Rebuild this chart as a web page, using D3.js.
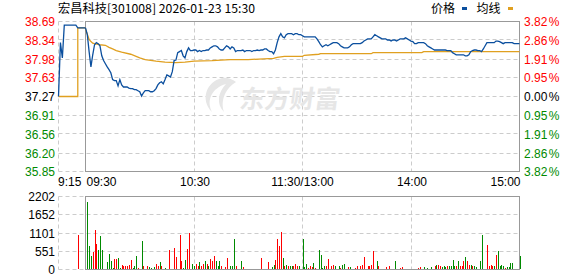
<!DOCTYPE html>
<html>
<head>
<meta charset="utf-8">
<script src="https://cdn.jsdelivr.net/npm/d3@7"></script>
<style>
  body { margin: 0; background: #fff; }
  svg text { font-family: "Liberation Sans", Arial, sans-serif; font-size: 12px; }
  svg .cjk { font-family: "Noto Sans CJK SC", sans-serif; }
</style>
</head>
<body>
<svg id="chart" width="578" height="276"></svg>
<script>
"use strict";

// ---- data ----
var title = '宏昌科技[301008] 2026-01-23 15:30';
var prevClose = 37.27;

var priceTicks = [38.69, 38.34, 37.98, 37.63, 37.27, 36.91, 36.56, 36.20, 35.85];
var pctLabels = ['3.82', '2.86', '1.91', '0.95', '0.00', '0.95', '1.91', '2.86', '3.82'];
var volTicks = [2202, 1652, 1101, 551, 0];
var timeLabels = ['9:15', '09:30', '10:30', '11:30/13:00', '14:00', '15:00'];

// call auction 9:15 .. 9:29, one value per minute
var prePrice = [37.27, 38.29, 38.00, 38.62, 38.62, 38.62, 38.62, 38.62, 38.62, 38.62,
                38.57, 38.57, 38.57, 38.57, 38.57];
var preAvg = [37.27, 37.27, 37.27, 37.27, 37.27, 37.27, 37.27, 37.27, 37.27, 37.27,
              38.57, 38.57, 38.57, 38.57, 38.57];
var preVolMinute = 10;      // 9:25
var preVol = 1050;

// trading minutes 0 (9:30) .. 240 (15:00), lunch break folded out
var price = [
  38.57, 38.44, 38.12, 37.83, 38.06, 38.25, 38.29, 38.27, 38.23, 38.04,
  37.95, 37.89, 37.83, 37.78, 37.72, 37.59, 37.57, 37.57, 37.47, 37.59,
  37.49, 37.45, 37.45, 37.45, 37.43, 37.42, 37.42, 37.40, 37.40, 37.38,
  37.36, 37.28, 37.34, 37.38, 37.38, 37.38, 37.36, 37.36, 37.38, 37.42,
  37.49, 37.53, 37.55, 37.51, 37.59, 37.68, 37.66, 37.64, 37.74, 37.95,
  37.96, 38.10, 38.12, 38.14, 38.04, 38.00, 38.12, 38.19, 38.14, 38.14,
  38.15, 38.15, 38.12, 38.14, 38.12, 38.14, 38.14, 38.15, 38.15, 38.19,
  38.21, 38.23, 38.23, 38.21, 38.17, 38.15, 38.15, 38.19, 38.23, 38.21,
  38.17, 38.21, 38.19, 38.12, 38.14, 38.14, 38.14, 38.15, 38.12, 38.14,
  38.14, 38.14, 38.12, 38.14, 38.14, 38.15, 38.14, 38.15, 38.15, 38.17,
  38.17, 38.14, 38.12, 38.12, 38.08, 38.15, 38.29, 38.40, 38.46, 38.40,
  38.38, 38.44, 38.46, 38.46, 38.46, 38.44, 38.46, 38.46, 38.44, 38.44,
  38.42, 38.40, 38.40, 38.40, 38.40, 38.40, 38.40, 38.40, 38.36, 38.31,
  38.25, 38.21, 38.23, 38.25, 38.23, 38.25, 38.27, 38.29, 38.29, 38.29,
  38.27, 38.23, 38.21, 38.19, 38.19, 38.19, 38.21, 38.25, 38.27, 38.27,
  38.27, 38.27, 38.27, 38.29, 38.32, 38.34, 38.36, 38.36, 38.36, 38.40,
  38.44, 38.42, 38.40, 38.38, 38.36, 38.36, 38.36, 38.34, 38.34, 38.32,
  38.34, 38.34, 38.32, 38.34, 38.36, 38.36, 38.36, 38.38, 38.36, 38.34,
  38.32, 38.31, 38.27, 38.27, 38.29, 38.29, 38.29, 38.29, 38.27, 38.23,
  38.21, 38.19, 38.17, 38.15, 38.15, 38.15, 38.15, 38.15, 38.15, 38.15,
  38.14, 38.14, 38.14, 38.10, 38.08, 38.06, 38.06, 38.06, 38.06, 38.06,
  38.04, 38.04, 38.06, 38.12, 38.14, 38.15, 38.15, 38.14, 38.14, 38.12,
  38.17, 38.23, 38.29, 38.29, 38.29, 38.29, 38.29, 38.32, 38.32, 38.31,
  38.29, 38.27, 38.29, 38.29, 38.29, 38.29, 38.29, 38.27, 38.27, 38.27, 38.27
];

// average price, read at the minutes where it visibly changes
var avgMinutes = [0, 1, 2, 3, 4, 5, 8, 11, 13, 15, 17, 20, 25, 30, 33, 35, 39, 44, 50, 55,
                  60, 70, 80, 90, 104, 106, 110, 120, 121, 129, 130, 158, 159, 186, 187, 240];
var avgPrices = [38.55, 38.45, 38.35, 38.31, 38.28, 38.27, 38.25, 38.24, 38.20, 38.17,
                 38.14, 38.11, 38.07, 38.00, 37.97, 37.96, 37.94, 37.92, 37.91, 37.92,
                 37.94, 37.95, 37.97, 37.97, 37.99, 38.01, 38.03, 38.03, 38.05, 38.07,
                 38.08, 38.08, 38.10, 38.10, 38.12, 38.12];

// volume for minutes 1 .. 240
var volume = [
  2030, 720, 420, 530, 1200, 780, 600, 1020, 600, 30,
  30, 220, 480, 250, 50, 330, 330, 360, 50, 150,
  100, 100, 100, 150, 280, 50, 120, 400, 50, 30,
  850, 120, 30, 100, 70, 50, 30, 70, 170, 120,
  220, 100, 30, 50, 30, 580, 30, 30, 650, 380,
  30, 1050, 270, 50, 300, 630, 1100, 30, 170, 100,
  170, 100, 220, 100, 170, 250, 170, 100, 320, 250,
  420, 250, 100, 270, 100, 30, 70, 360, 30, 120,
  100, 920, 120, 30, 30, 270, 70, 30, 30, 30,
  30, 30, 30, 30, 30, 30, 350, 30, 30, 30,
  220, 30, 80, 150, 300, 930, 720, 1120, 350, 100,
  150, 100, 100, 120, 120, 170, 100, 120, 30, 930,
  70, 170, 50, 100, 70, 200, 50, 30, 580, 450,
  50, 120, 100, 330, 30, 100, 150, 100, 30, 120,
  50, 150, 170, 30, 70, 70, 30, 30, 50, 120,
  30, 100, 150, 370, 30, 100, 100, 150, 550, 30,
  250, 100, 30, 30, 30, 80, 30, 120, 30, 30,
  250, 30, 30, 50, 90, 30, 30, 30, 30, 30,
  30, 30, 30, 50, 80, 30, 80, 30, 50, 30,
  80, 30, 100, 150, 150, 100, 80, 100, 80, 120,
  100, 120, 300, 100, 120, 250, 100, 100, 250, 370,
  270, 150, 150, 100, 100, 80, 30, 250, 1050, 30,
  30, 750, 100, 150, 100, 120, 450, 550, 100, 150,
  100, 50, 80, 80, 200, 200, 0, 0, 0, 420
];
// R = up minute, G = down minute (same order as volume)
var volumeDir = (
  'GGGRRRGGGG GGGGGRRGGR RRRRRGGGRG GRRRGGGGRR GRGGGRGGRR GRRGGRRGGG ' +
  'RRGRRGRGRR RGGGRGRRRG GGRGGGRRRR RRRRRRRRRR RGGGRRRRGR GRGGRRRGRG ' +
  'GGRRRGRRGG GGRRGRRGGG RGGRRGRGRR RRRRGRRRRG GRGGRRRRRR GGGRRRRRRG ' +
  'GGRRRGGRGG GRRGRRGGGR GGGGRGRRRG RRGRGGRGGR GRRRRGRGGG GRGGGGGGGG'
).replace(/ /g, '').split('');

// ---- drawing ----
var d3 = window.d3;
var svg = d3.select('#chart');

var colors = {
  up: '#ff0000', down: '#008a00', flat: '#000000',
  price: '#0b4f9e', avg: '#e0a020', grid: '#cccccc', frame: '#999999'
};

var left = 58.5, right = 519.5;
var x = d3.scaleLinear().domain([0, 240]).range([85.5, right]);
var xPre = d3.scaleLinear().domain([0, 14]).range([left, 85.5]);
var y = d3.scaleLinear().domain([35.85, 38.69]).range([171.5, 21.5]);
var yv = d3.scaleLinear().domain([0, 2202]).range([269.5, 196.5]);

function tickColor(v) {
  if (Math.abs(v - prevClose) < 0.005) return colors.flat;
  return v > prevClose ? colors.up : colors.down;
}
function px(v) { return Math.floor(v) + 0.5; }

// grid
var grid = svg.append('g')
  .attr('stroke', colors.grid).attr('stroke-dasharray', '4,3').attr('fill', 'none');
grid.selectAll('.hp').data(priceTicks).enter().append('line')
  .attr('x1', left).attr('x2', right)
  .attr('y1', d => px(y(d))).attr('y2', d => px(y(d)));
grid.selectAll('.hv').data(volTicks).enter().append('line')
  .attr('x1', left).attr('x2', right)
  .attr('y1', d => px(yv(d))).attr('y2', d => px(yv(d)));
[60, 120, 180].forEach(function(m) {
  grid.append('line').attr('x1', px(x(m))).attr('x2', px(x(m))).attr('y1', 21.5).attr('y2', 171.5);
  grid.append('line').attr('x1', px(x(m))).attr('x2', px(x(m))).attr('y1', 196.5).attr('y2', 269.5);
});
grid.append('line').attr('x1', left).attr('x2', left).attr('y1', 21.5).attr('y2', 171.5);
grid.append('line').attr('x1', left).attr('x2', left).attr('y1', 196.5).attr('y2', 269.5);

// watermark
var wm = svg.append('g').attr('fill', '#e6e6e6');
wm.append('path')
  .attr('d', 'M222,78 C206,82 200,100 212,112 C206,100 212,88 226,84 C218,92 216,104 224,112 C220,100 226,88 236,82 C232,79 227,77 222,78 Z');
wm.append('text').attr('class', 'cjk')
  .attr('x', 240).attr('y', 108)
  .attr('font-size', 25).attr('font-weight', 'bold')
  .attr('transform', 'skewX(-8) translate(14,0)')
  .style('font-size', '25px')
  .text('东方财富');

// frames
svg.append('rect').attr('x', 85.5).attr('y', 21.5).attr('width', right - 85.5).attr('height', 150)
  .attr('fill', 'none').attr('stroke', colors.frame);
svg.append('rect').attr('x', 85.5).attr('y', 196.5).attr('width', right - 85.5).attr('height', 73)
  .attr('fill', 'none').attr('stroke', colors.frame);

// left price axis
var axL = svg.append('g').attr('transform', 'translate(' + left + ',0)')
  .call(d3.axisLeft(y).tickValues(priceTicks).tickSize(0).tickPadding(3.5)
    .tickFormat(d => d.toFixed(2)));
axL.select('.domain').remove();
axL.selectAll('text')
  .attr('font-family', '"Liberation Sans", Arial, sans-serif').attr('font-size', 12)
  .attr('dy', '0.35em').attr('fill', d => tickColor(d));

// right percent axis
var axR = svg.append('g').attr('transform', 'translate(' + right + ',0)')
  .call(d3.axisRight(y).tickValues(priceTicks).tickSize(0).tickPadding(4.5)
    .tickFormat((d, i) => pctLabels[i]));
axR.select('.domain').remove();
axR.selectAll('text')
  .attr('font-family', '"Liberation Sans", Arial, sans-serif').attr('font-size', 12)
  .attr('dy', '0.35em').attr('fill', d => tickColor(d))
  .append('tspan').attr('dx', 1.5).text('%');

// volume axis
var axV = svg.append('g').attr('transform', 'translate(' + left + ',0)')
  .call(d3.axisLeft(yv).tickValues(volTicks).tickSize(0).tickPadding(3.5)
    .tickFormat(d3.format('d')));
axV.select('.domain').remove();
axV.selectAll('text')
  .attr('font-family', '"Liberation Sans", Arial, sans-serif').attr('font-size', 12)
  .attr('dy', '0.35em').attr('fill', '#000');

// time labels
var timePos = [
  {x: xPre(0) - 0.5, anchor: 'start'},
  {x: x(0) + 1, anchor: 'start'},
  {x: x(60) + 1, anchor: 'middle'},
  {x: x(120), anchor: 'middle'},
  {x: x(180) + 1, anchor: 'middle'},
  {x: x(240) + 1, anchor: 'end'}
];
svg.append('g').selectAll('text').data(timeLabels).enter().append('text')
  .attr('x', (d, i) => timePos[i].x).attr('y', 186)
  .attr('text-anchor', (d, i) => timePos[i].anchor)
  .attr('fill', '#000')
  .text(d => d);

// volume bars
var bars = svg.append('g');
bars.append('rect')
  .attr('x', Math.round(xPre(preVolMinute))).attr('width', 1)
  .attr('y', Math.round(yv(preVol))).attr('height', 269 - Math.round(yv(preVol)))
  .attr('fill', colors.up);
bars.selectAll('.bar').data(volume).enter().append('rect')
  .attr('x', (d, i) => Math.round(x(i + 1))).attr('width', 1)
  .attr('y', d => Math.round(yv(d)))
  .attr('height', d => Math.max(0, 269 - Math.round(yv(d))))
  .attr('fill', (d, i) => volumeDir[i] === 'R' ? colors.up : colors.down);

// lines
var preAvgLine = d3.line().x((d, i) => xPre(i)).y(d => y(d)).curve(d3.curveStepAfter);
var preLine = d3.line().x((d, i) => xPre(i)).y(d => y(d));
var avgLine = d3.line().x((d, i) => x(avgMinutes[i])).y(d => y(d));
var priceLine = d3.line().x((d, i) => x(i)).y(d => y(d));

svg.append('path').datum(preAvg).attr('d', preAvgLine)
  .attr('fill', 'none').attr('stroke', colors.avg).attr('stroke-width', 1.3);
svg.append('path').datum(avgPrices).attr('d', avgLine)
  .attr('fill', 'none').attr('stroke', colors.avg).attr('stroke-width', 1.3);
svg.append('path').datum(prePrice).attr('d', preLine)
  .attr('fill', 'none').attr('stroke', colors.price).attr('stroke-width', 1.3);
svg.append('path').datum(price).attr('d', priceLine)
  .attr('fill', 'none').attr('stroke', colors.price).attr('stroke-width', 1.3);

// title and legend
svg.append('text').attr('class', 'cjk')
  .attr('x', 58).attr('y', 13).attr('fill', '#000')
  .attr('textLength', 197).attr('lengthAdjust', 'spacingAndGlyphs')
  .text(title);
var legend = svg.append('g');
legend.append('text').attr('class', 'cjk').attr('x', 431).attr('y', 13).attr('fill', '#000').text('价格');
legend.append('rect').attr('x', 462).attr('y', 7).attr('width', 5).attr('height', 3).attr('fill', colors.price);
legend.append('text').attr('class', 'cjk').attr('x', 476.5).attr('y', 13).attr('fill', '#000').text('均线');
legend.append('rect').attr('x', 508).attr('y', 7).attr('width', 5).attr('height', 3).attr('fill', colors.avg);
</script>
</body>
</html>
